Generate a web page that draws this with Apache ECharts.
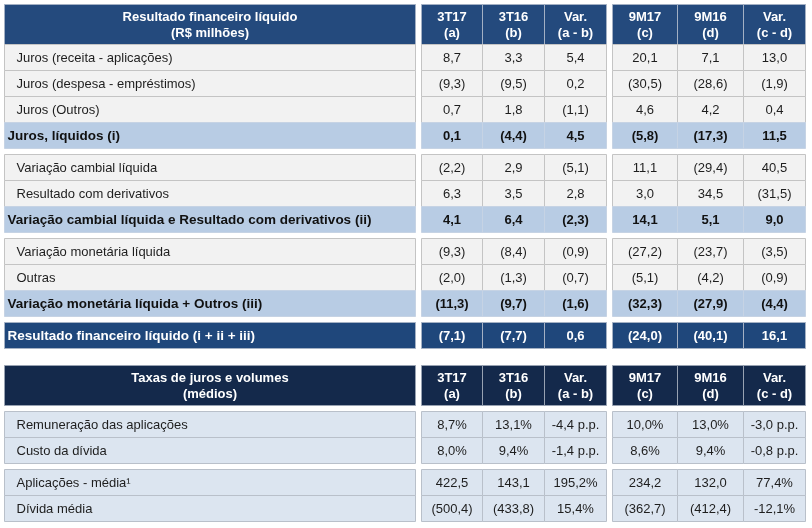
<!DOCTYPE html>
<html><head><meta charset="utf-8">
<script src="https://cdn.jsdelivr.net/npm/echarts@6/dist/echarts.min.js"></script>
<style>html,body{margin:0;padding:0;background:#fff}#c{width:812px;height:528px}</style>
</head><body><div id="c"></div><script>
// ---------- DATA ----------
const colHeads = ['3T17\n(a)', '3T16\n(b)', 'Var.\n(a - b)', '9M17\n(c)', '9M16\n(d)', 'Var.\n(c - d)'];
const title1 = 'Resultado financeiro líquido\n(R$ milhões)';
const title2 = 'Taxas de juros e volumes\n(médios)';

const labels1 = [
  'Juros (receita - aplicações)',
  'Juros (despesa - empréstimos)',
  'Juros (Outros)',
  'Juros, líquidos (i)',
  'Variação cambial líquida',
  'Resultado com derivativos',
  'Variação cambial líquida e Resultado com derivativos (ii)',
  'Variação monetária líquida',
  'Outras',
  'Variação monetária líquida + Outros (iii)',
  'Resultado financeiro líquido (i + ii + iii)'
];
const kinds1 = ['n', 'n', 'n', 's', 'n', 'n', 's', 'n', 'n', 's', 't'];
const v3T17 = [8.7, -9.3, 0.7, 0.1, -2.2, 6.3, 4.1, -9.3, -2.0, -11.3, -7.1];
const v3T16 = [3.3, -9.5, 1.8, -4.4, 2.9, 3.5, 6.4, -8.4, -1.3, -9.7, -7.7];
const vVarQ = [5.4, 0.2, -1.1, 4.5, -5.1, 2.8, -2.3, -0.9, -0.7, -1.6, 0.6];
const v9M17 = [20.1, -30.5, 4.6, -5.8, 11.1, 3.0, 14.1, -27.2, -5.1, -32.3, -24.0];
const v9M16 = [7.1, -28.6, 4.2, -17.3, -29.4, 34.5, 5.1, -23.7, -4.2, -27.9, -40.1];
const vVar9 = [13.0, -1.9, 0.4, 11.5, 40.5, -31.5, 9.0, -3.5, -0.9, -4.4, 16.1];

const labels2 = ['Remuneração das aplicações', 'Custo da dívida', 'Aplicações - média¹', 'Dívida média'];
// rates (%) and variation in p.p.
const rate3T17 = [8.7, 8.0];
const rate3T16 = [13.1, 9.4];
const rateVarQ = [-4.4, -1.4];
const rate9M17 = [10.0, 8.6];
const rate9M16 = [13.0, 9.4];
const rateVar9 = [-3.0, -0.8];
// volumes (R$ milhões) and variation in %
const vol3T17 = [422.5, -500.4];
const vol3T16 = [143.1, -433.8];
const volVarQ = [195.2, 15.4];
const vol9M17 = [234.2, -362.7];
const vol9M16 = [132.0, -412.4];
const volVar9 = [77.4, -12.1];

// ---------- FORMAT ----------
const dec = v => Math.abs(v).toFixed(1).replace('.', ',');
const fPar = v => v < 0 ? '(' + dec(v) + ')' : dec(v);
const fPct = v => (v < 0 ? '-' : '') + dec(v) + '%';
const fPP = v => (v < 0 ? '-' : '') + dec(v) + ' p.p.';

// ---------- LAYOUT (styling only) ----------
const colEdges = [[5, 416], [422, 483], [483, 545], [545, 607], [613, 678], [678, 744], [744, 806]];
const rowTops1 = [45, 71, 97, 123, 155, 181, 207, 239, 265, 291, 323];
const rowTops2 = [412, 438, 470, 496];
const rowH = 26;
const head1 = [5, 45], head2 = [366, 406];

const style = {
  h1: { fill: '#244A7D', stroke: '#A3B0C4', color: '#fff', bold: true },
  h2: { fill: '#14294B', stroke: '#98A2B2', color: '#fff', bold: true },
  n: { fill: '#F2F2F2', stroke: '#C4C4C4', color: '#1e1e1e', bold: false, indent: 12 },
  s: { fill: '#B8CCE4', stroke: '#C6D3E4', color: '#111', bold: true, indent: 3 },
  t: { fill: '#1F477B', stroke: '#A4B1C4', color: '#fff', bold: true, indent: 3 },
  r: { fill: '#DCE5F0', stroke: '#B9C0CA', color: '#1e1e1e', bold: false, indent: 12 }
};

// ---------- CELLS ----------
const cells = [];
function addCell(col, y0, y1, kind, text, align) {
  const [x0, x1] = colEdges[col];
  cells.push({ value: [x0, y0, x1, y1], kind, text, align });
}
addCell(0, head1[0], head1[1], 'h1', title1, 'center');
colHeads.forEach((h, i) => addCell(i + 1, head1[0], head1[1], 'h1', h, 'center'));
const cols1 = [v3T17, v3T16, vVarQ, v9M17, v9M16, vVar9];
labels1.forEach((lab, r) => {
  const y0 = rowTops1[r], y1 = y0 + rowH, k = kinds1[r];
  addCell(0, y0, y1, k, lab, 'left');
  cols1.forEach((arr, c) => addCell(c + 1, y0, y1, k, fPar(arr[r]), 'center'));
});
addCell(0, head2[0], head2[1], 'h2', title2, 'center');
colHeads.forEach((h, i) => addCell(i + 1, head2[0], head2[1], 'h2', h, 'center'));
const rateCols = [[rate3T17, fPct], [rate3T16, fPct], [rateVarQ, fPP], [rate9M17, fPct], [rate9M16, fPct], [rateVar9, fPP]];
const volCols = [[vol3T17, fPar], [vol3T16, fPar], [volVarQ, fPct], [vol9M17, fPar], [vol9M16, fPar], [volVar9, fPct]];
labels2.forEach((lab, r) => {
  const y0 = rowTops2[r], y1 = y0 + rowH;
  addCell(0, y0, y1, 'r', lab, 'left');
  const set = r < 2 ? rateCols : volCols, idx = r < 2 ? r : r - 2;
  set.forEach(([arr, f], c) => addCell(c + 1, y0, y1, 'r', f(arr[idx]), 'center'));
});

const chart = echarts.init(document.getElementById('c'), null, { renderer: 'canvas' });
chart.setOption({
  animation: false,
  grid: { left: 0, right: 0, top: 0, bottom: 0 },
  xAxis: { type: 'value', min: 0, max: 812, show: false },
  yAxis: { type: 'value', min: 0, max: 528, inverse: true, show: false },
  series: [{
    type: 'custom',
    coordinateSystem: 'cartesian2d',
    data: cells,
    renderItem(params, api) {
      const c = cells[params.dataIndex];
      const st = style[c.kind];
      const p0 = api.coord([api.value(0), api.value(1)]);
      const p1 = api.coord([api.value(2), api.value(3)]);
      const x0 = Math.round(p0[0]) - 0.5, y0 = Math.round(p0[1]) - 0.5;
      const x1 = Math.round(p1[0]) - 0.5, y1 = Math.round(p1[1]) - 0.5;
      const left = c.align === 'left';
      const size = (left && st.bold) ? 13.5 : 13;
      return {
        type: 'group',
        children: [
          { type: 'rect', shape: { x: x0, y: y0, width: x1 - x0, height: y1 - y0 },
            style: { fill: st.fill, stroke: st.stroke, lineWidth: 1 } },
          { type: 'text',
            x: left ? x0 + st.indent : (x0 + x1) / 2, y: (y0 + y1) / 2 + 0.5,
            style: { text: c.text, fill: st.color, align: left ? 'left' : 'center', verticalAlign: 'middle',
              font: (st.bold ? 'bold ' : '') + size + 'px "Liberation Sans", Arial, sans-serif', lineHeight: 16 } }
        ]
      };
    }
  }]
});
</script></body></html>
